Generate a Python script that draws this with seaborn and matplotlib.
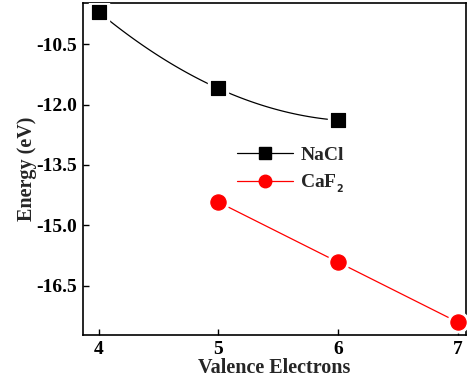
import numpy as np
import pandas as pd
import seaborn as sns
import matplotlib
matplotlib.use("Agg")
import matplotlib.pyplot as plt
from matplotlib.lines import Line2D

# Data
nacl_x = [4, 5, 6]
nacl_y = [-9.70, -11.60, -12.39]
caf2_x = [5, 6, 7]
caf2_y = [-14.42, -15.91, -17.40]
y_ticks = [-10.5, -12.0, -13.5, -15.0, -16.5]
x_ticks = [4, 5, 6, 7]

sns.set_theme(style="ticks")
plt.rcParams['font.family'] = ['Liberation Serif', 'DejaVu Serif']
plt.rcParams['font.weight'] = 'bold'

fig = plt.figure(figsize=(4.68, 3.80), dpi=100)
ax = fig.add_axes([83/468, 1 - 335/380, (466-83)/468, (335-3)/380])

nacl = pd.DataFrame({"x": nacl_x, "y": nacl_y})
caf2 = pd.DataFrame({"x": caf2_x, "y": caf2_y})

# smooth connecting curve for NaCl (quadratic through its points)
coef = np.polyfit(nacl["x"], nacl["y"], 2)
xs = np.linspace(nacl["x"].min(), nacl["x"].max(), 100)
curve = pd.DataFrame({"x": xs, "y": np.polyval(coef, xs)})
sns.lineplot(data=curve, x="x", y="y", ax=ax, color="black", lw=0.9, zorder=2)
sns.lineplot(data=caf2, x="x", y="y", ax=ax, color="red", lw=0.9, zorder=2)

# white halos to create gaps between lines and markers
ax.plot(nacl["x"], nacl["y"], ls="none", marker="s", ms=15, color="white", mec="white", zorder=3)
ax.plot(caf2["x"], caf2["y"], ls="none", marker="o", ms=15, color="white", mec="white", zorder=3)
sns.scatterplot(data=nacl, x="x", y="y", ax=ax, marker="s", s=110, color="black", edgecolor="black", zorder=4)
sns.scatterplot(data=caf2, x="x", y="y", ax=ax, marker="o", s=120, color="red", edgecolor="red", zorder=4)

ax.set_xlim(3.87, 7.07)
ax.set_ylim(-17.72, -9.48)
ax.set_xticks(x_ticks)
ax.set_xticklabels([str(t) for t in x_ticks])
ax.set_yticks(y_ticks)
ax.set_yticklabels([f"{t:.1f}" for t in y_ticks])
ax.tick_params(direction="in", length=4, width=1, labelsize=14, colors="black", pad=4)
for lab in ax.get_xticklabels() + ax.get_yticklabels():
    lab.set_fontweight("bold")
for s in ax.spines.values():
    s.set_visible(True)
    s.set_color("black")
    s.set_linewidth(1.2)

ax.set_xlabel("Valence Electrons", fontsize=14.5, fontweight="bold", labelpad=0)
ax.set_ylabel("Energy (eV)", fontsize=14.5, fontweight="bold")
ax.yaxis.set_label_coords(-0.12, 0.5)

handles = [
    Line2D([], [], color="black", lw=0.9, marker="s", ms=8, mfc="black", mec="black"),
    Line2D([], [], color="red", lw=0.9, marker="o", ms=9, mfc="red", mec="red"),
]
ax.legend(handles, ["NaCl", r"CaF$_{\mathbf{_2}}$"], loc="upper left",
          bbox_to_anchor=((237 - 83) / 383, (335 - 146) / 332), frameon=False,
          handlelength=2.9, handletextpad=0.35, labelspacing=0.45, borderpad=0,
          borderaxespad=0, prop={"weight": "bold", "size": 14})

fig.savefig("out.png", dpi=100)
